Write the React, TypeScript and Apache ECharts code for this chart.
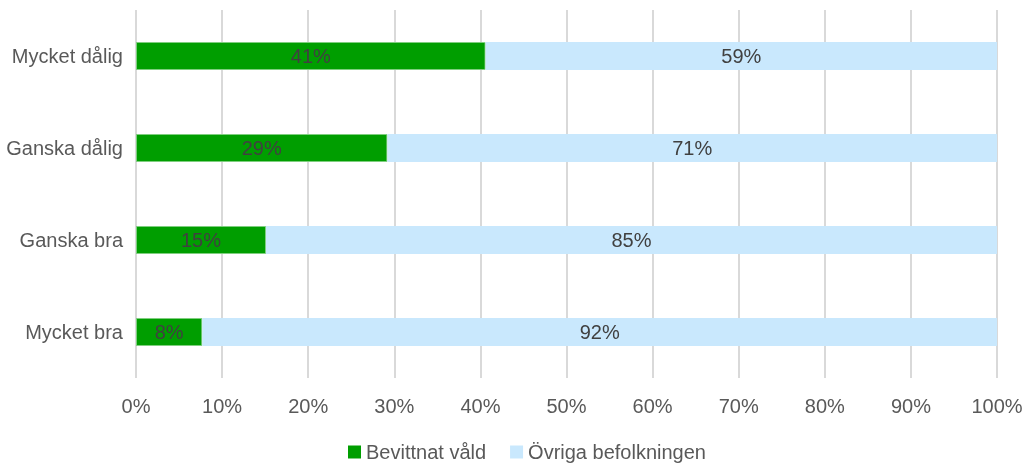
import React, { useEffect, useRef } from "react";
import * as echarts from "echarts";

const categories = ["Mycket bra", "Ganska bra", "Ganska dålig", "Mycket dålig"];
const witnessed = [7.7, 15.1, 29.2, 40.6];
const others = [92.3, 84.9, 70.8, 59.4];
const seriesNames = ["Bevittnat våld", "Övriga befolkningen"];

export default function App() {
  const ref = useRef<HTMLDivElement>(null);
  useEffect(() => {
    const chart = echarts.init(ref.current!, null, { renderer: "svg" });
    const font = "'Liberation Sans', Arial, sans-serif";
    const label = {
      show: true,
      position: "inside",
      color: "#404040",
      fontSize: 20,
      fontFamily: font,
      formatter: (p: any) => Math.round(p.value) + "%",
    };
    chart.setOption({
      animation: false,
      textStyle: { fontFamily: font },
      grid: { left: 136, right: 31, top: 10, bottom: 86, containLabel: false },
      legend: {
        top: 437,
        left: 343,
        itemWidth: 13,
        itemHeight: 13,
        itemGap: 24,
        icon: "rect",
        itemStyle: { borderWidth: 0 },
        textStyle: { fontSize: 20, color: "#595959", fontFamily: font },
        data: seriesNames,
      },
      xAxis: {
        type: "value",
        min: 0,
        max: 100,
        interval: 10,
        axisLabel: {
          formatter: "{value}%",
          fontSize: 20,
          color: "#595959",
          margin: 18,
          fontFamily: font,
        },
        axisLine: { show: false },
        axisTick: { show: false },
        splitLine: { show: true, lineStyle: { color: "#d9d9d9", width: 2 } },
      },
      yAxis: {
        type: "category",
        data: categories,
        axisLine: { show: false },
        axisTick: { show: false },
        axisLabel: { fontSize: 20, color: "#595959", margin: 13, fontFamily: font },
      },
      series: [
        {
          name: seriesNames[0],
          type: "bar",
          stack: "total",
          barWidth: 28,
          data: witnessed,
          itemStyle: { color: "#009e00", borderColor: "#7fce7f", borderWidth: 1 },
          label,
        },
        {
          name: seriesNames[1],
          type: "bar",
          stack: "total",
          barWidth: 28,
          data: others,
          itemStyle: { color: "#c9e8fd" },
          label,
        },
      ],
    });
    return () => chart.dispose();
  }, []);
  return (
    <div
      ref={ref}
      style={{ position: "fixed", left: 0, top: 0, width: 1028, height: 464 }}
    />
  );
}
